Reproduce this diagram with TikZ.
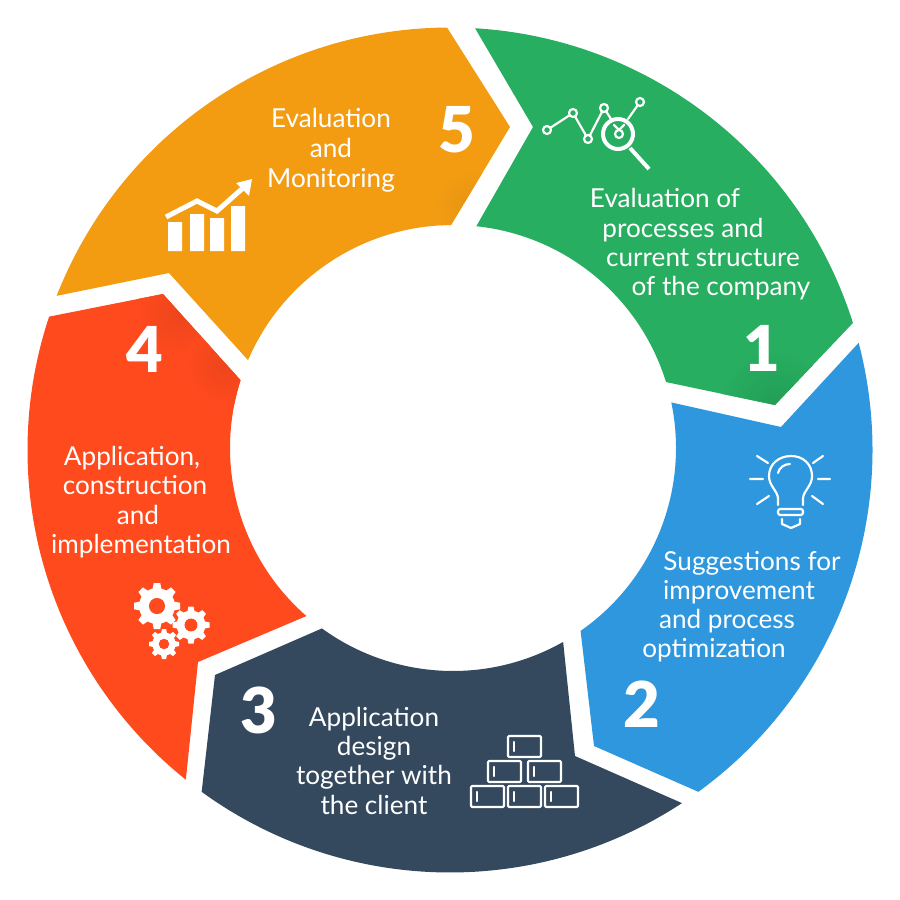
\documentclass[tikz,border=0pt]{standalone}
\usepackage{fontspec}
\setmainfont{Lato}[BoldFont=Lato Black]
\usetikzlibrary{calc}
\definecolor{segGreen}{HTML}{27AE60}
\definecolor{segBlue}{HTML}{2E97DE}
\definecolor{segDark}{HTML}{34495E}
\definecolor{segRed}{HTML}{FF4A1E}
\definecolor{segOrange}{HTML}{F39C12}

\newcommand{\segment}[8]{% colour, outer from, outer to, tip, inner from, inner to, notch, shades
  \begin{scope}
  \clip ($(c)+(#2:\Router)$) arc[start angle=#2,end angle=#3,radius=\Router] -- #4
    -- ($(d)+(#5:\Rinner)$) arc[start angle=#5,end angle=#6,radius=\Rinner] -- #7 -- cycle;
  \fill[#1] (0,0) rectangle (900,900);
  #8
  \end{scope}
}
\newcommand{\gearicon}[4]{% centre x, y, radius, hole colour
  \fill[white] (#1,#2) circle (0.78*#3);
  \foreach \a in {0,45,...,315}
    \fill[white,shift={(#1,#2)},rotate=\a] (0.7*#3,-0.2*#3) -- (#3,-0.14*#3) -- (#3,0.14*#3) -- (0.7*#3,0.2*#3) -- cycle;
  \fill[#4] (#1,#2) circle (0.35*#3);
}

\begin{document}
\begin{tikzpicture}[x=0.03cm,y=-0.03cm]
\tikzstyle{lbl}=[text=white,anchor=base,inner sep=0pt,font=\fontsize{22.3}{26}\selectfont]
\tikzstyle{num}=[text=white,anchor=base,inner sep=0pt,font=\fontsize{54}{60}\selectfont\bfseries]
\tikzstyle{iconthin}=[white,line width=0.65mm,line cap=round,line join=round]

\def\Router{422.5}
\def\Rinner{223}
\useasboundingbox (0,0) rectangle (900,900);
\coordinate (c) at (450,450);
\coordinate (d) at (453,448);

% ring
\segment{segGreen}{-86.6}{-17.5}{(775,405)}{-17.2}{-84.0}{(533,127)}{
  \shade[inner color=segGreen!90!black,outer color=segGreen] (775,405) circle (55);}
\segment{segBlue}{-14.7}{54.0}{(594,746)}{55.1}{-11.8}{(781,427)}{}
\segment{segDark}{56.7}{126}{(215,675)}{126}{60.4}{(575,756)}{}
\segment{segRed}{128.7}{198.4}{(163,294)}{197.7}{131.1}{(198,662)}{
  \shade[inner color=segRed!93!black,outer color=segRed] (180,312) circle (45);
  \shade[inner color=segRed!93!black,outer color=segRed] (225,365) circle (40);}
\segment{segOrange}{201.4}{269.6}{(510,127)}{269.5}{203.2}{(169,273)}{
  \shade[inner color=segOrange!95!black,outer color=segOrange] (470,205) circle (35);}

% numbers
\node (num1) [num] at (762,371) {1};
\node (num2) [num] at (642,727) {2};
\node (num3) [num] at (259,733) {3};
\node (num4) [num] at (145,372) {4};
\node (num5) [num] at (457,153) {5};

% labels
\node (t1a) [lbl] at (665,207) {Evaluation of};
\node (t1b) [lbl] at (683,237) {processes and};
\node (t1c) [lbl] at (703,266) {current structure};
\node (t1d) [lbl] at (721,295) {of the company};

\node (t2a) [lbl] at (752,570) {Suggestions for};
\node (t2b) [lbl] at (739,599) {improvement};
\node (t2c) [lbl] at (727,628) {and process};
\node (t2d) [lbl] at (714,657) {optimization};

\node (t3a) [lbl] at (374,726) {Application};
\node (t3b) [lbl] at (374,755) {design};
\node (t3c) [lbl] at (374,784) {together with};
\node (t3d) [lbl] at (374,814) {the client};

\node (t4a) [lbl] at (132,465) {Application,};
\node (t4b) [lbl] at (135,494) {construction};
\node (t4c) [lbl] at (138,524) {and};
\node (t4d) [lbl] at (141,553) {implementation};

\node (t5a) [lbl] at (331,128) {Evaluation};
\node (t5b) [lbl] at (331,157) {and};
\node (t5c) [lbl] at (331,187) {Monitoring};

% analytics icon
\draw[iconthin] (547,130) -- (573,113) -- (588,139) -- (604,108) -- (611,119);
\draw[iconthin] (628,119) -- (640,102);
\foreach \p in {(547,130),(573,113),(588,139),(604,108),(640,102),(619,134)}
  \draw[iconthin,fill=segGreen] \p circle (4);
\draw[iconthin] (619,130) -- (614,125) (619,130) -- (624,125);
\draw[white,line width=1.2mm] (618,134) circle (15);
\draw[white,line width=1.2mm] (630,148) -- (649,169);

% lightbulb icon
\draw[iconthin] (778,505) -- (778,498) .. controls (777,490) and (769,486) .. (769,476)
  .. controls (769,464) and (779,456) .. (791,456) .. controls (803,456) and (812,464) .. (812,476)
  .. controls (812,486) and (804,490) .. (803,498) -- (803,505);
\draw[iconthin] (778,473) .. controls (779,468) and (784,464) .. (790,464);
\draw[iconthin,rounded corners=2pt] (778,509) rectangle (803,515);
\draw[iconthin] (782,519) -- (782,524) -- (791,528) -- (800,524) -- (800,519);
\draw[iconthin] (750,479) -- (763,479) (818,479) -- (830,479)
  (757,456) -- (768,463) (823,456) -- (813,463)
  (757,504) -- (769,496) (823,504) -- (812,496);

% bricks icon
\foreach \x/\y in {508/736,488/761,528/761,471/786,508/786,545/786}{
  \draw[iconthin,rounded corners=1pt] (\x,\y) rectangle (\x+33,\y+21);
  \draw[iconthin] (\x+6,\y+6) -- (\x+6,\y+15);
}

% gears icon
\gearicon{157}{606}{23}{segRed}
\gearicon{191}{625}{18.5}{segRed}
\gearicon{164}{644}{15}{segRed}

% chart icon
\fill[white] (168,222) rectangle (182,251) (190,214) rectangle (204,251)
  (210,218) rectangle (224,251) (231,206) rectangle (245,251);
\draw[white,line width=1.5mm] (166,217) -- (197,201) -- (217,211) -- (243,188);
\fill[white] (252,179) -- (236,183) -- (249,196) -- cycle;
\end{tikzpicture}
\end{document}
